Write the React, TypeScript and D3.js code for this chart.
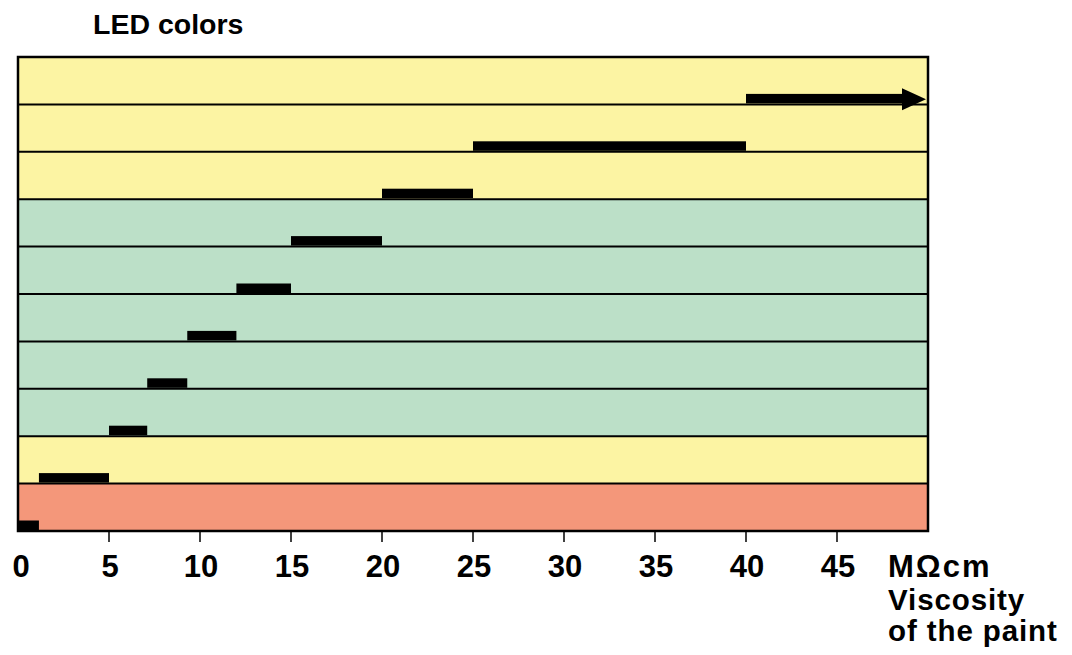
import React from "react";
import * as d3 from "d3";

const rowIds = ["r0", "r1", "r2", "r3", "r4", "r5", "r6", "r7", "r8", "r9"];
const rowColors = ["yellow", "yellow", "yellow", "green", "green", "green", "green", "green", "yellow", "red"];
const barStart = [40, 25, 20, 15, 12, 9.3, 7.1, 5, 1.15, 0];
const barEnd = [50, 40, 25, 20, 15, 12, 9.3, 7.1, 5, 1.15];
const arrowRow = [true, false, false, false, false, false, false, false, false, false];
const xTicks = [0, 5, 10, 15, 20, 25, 30, 35, 40, 45];
const axisLines = ["Viscosity", "of the paint"];

const fillMap: Record<string, string> = {
  yellow: "#FCF4A3",
  green: "#BCE0C8",
  red: "#F4977A",
};

export default function App() {
  const W = 1072, H = 655;
  const left = 18, right = 928, top = 57, bottom = 531;
  const x = d3.scaleLinear().domain([0, 50]).range([left, right]);
  const y = d3.scaleBand().domain(rowIds).range([top, bottom]).padding(0);
  const bw = y.bandwidth();
  const barH = 9.5;
  const font = "'Liberation Sans', Arial, Helvetica, sans-serif";

  return (
    <svg width={W} height={H} style={{ position: "absolute", left: 0, top: 0 }}>
      <rect x={0} y={0} width={W} height={H} fill="#fff" />
      <text x={93} y={34} fontFamily={font} fontWeight="bold" fontSize={28.5}>LED colors</text>
      {rowIds.map((id, i) => (
        <rect key={"bg" + id} x={left} y={y(id)!} width={right - left} height={bw} fill={fillMap[rowColors[i]]} />
      ))}
      {rowIds.slice(0, -1).map((id) => (
        <line key={"ln" + id} x1={left} x2={right} y1={y(id)! + bw} y2={y(id)! + bw} stroke="#000" strokeWidth={2} />
      ))}
      {rowIds.map((id, i) => {
        const yb = y(id)! + bw;
        if (arrowRow[i]) {
          const x0 = x(barStart[i]);
          const x1 = x(barEnd[i]) - 2;
          const headL = 24;
          const yc = yb - barH / 2 - 0.5;
          return (
            <g key={"bar" + id}>
              <rect x={x0} y={yb - barH - 1} width={x1 - headL - x0 + 2} height={barH} fill="#000" />
              <path d={`M${x1 - headL},${yc - 11} L${x1},${yc} L${x1 - headL},${yc + 11} Z`} fill="#000" />
            </g>
          );
        }
        return (
          <rect key={"bar" + id} x={x(barStart[i])} y={yb - barH - 1} width={x(barEnd[i]) - x(barStart[i])} height={barH} fill="#000" />
        );
      })}
      <rect x={left} y={top} width={right - left} height={bottom - top} fill="none" stroke="#000" strokeWidth={2.5} />
      {xTicks.map((t) => (
        <g key={"t" + t}>
          {t > 0 && <line x1={x(t)} x2={x(t)} y1={bottom} y2={bottom + 11} stroke="#000" strokeWidth={1.5} />}
          <text x={x(t) + (t === 0 ? 3 : 1)} y={577} textAnchor="middle" fontFamily={font} fontWeight="bold" fontSize={31}>{t}</text>
        </g>
      ))}
      <text x={888} y={577} fontFamily={font} fontWeight="bold" fontSize={31} letterSpacing={2}>MΩcm</text>
      <text x={888} y={610} fontFamily={font} fontWeight="bold" fontSize={29.5} letterSpacing={0.9}>
        {axisLines.map((s, i) => (
          <tspan key={s} x={888} dy={i === 0 ? 0 : 31}>{s}</tspan>
        ))}
      </text>
    </svg>
  );
}
